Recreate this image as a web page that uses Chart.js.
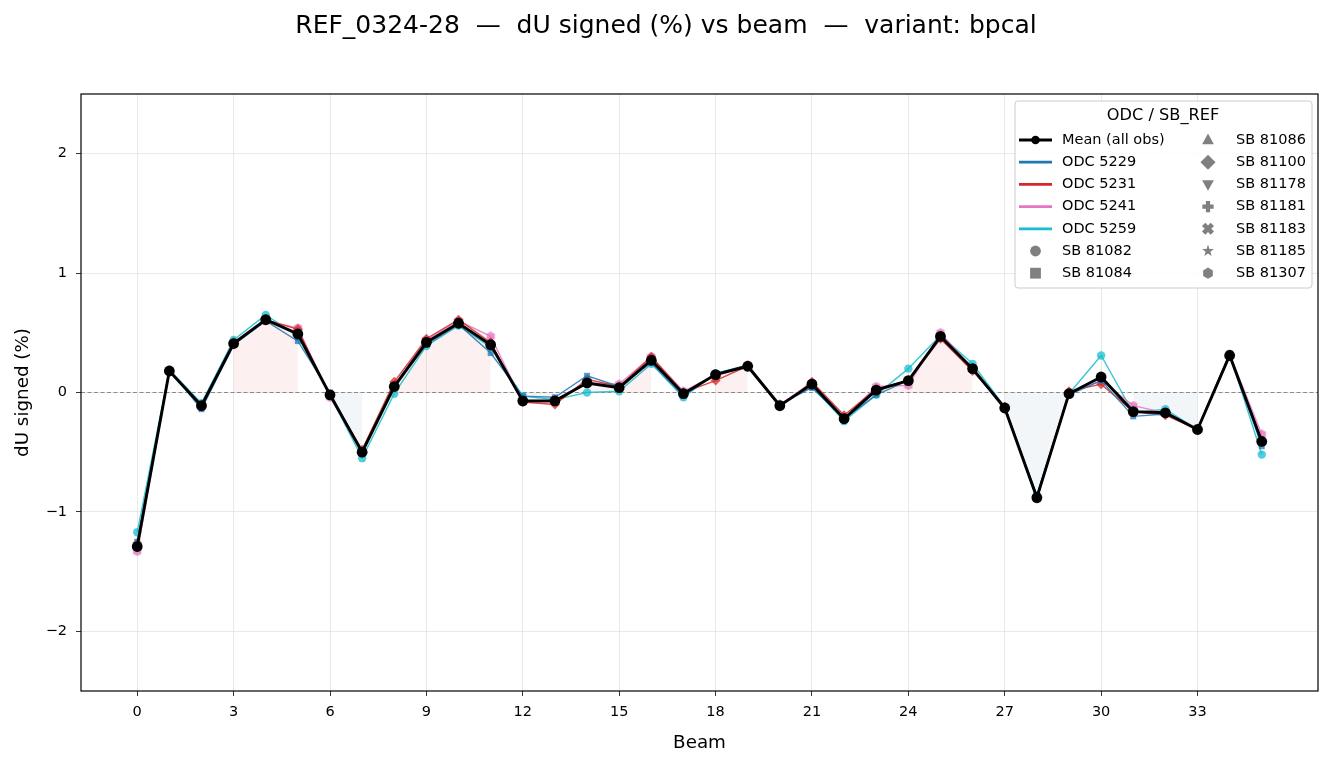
<!DOCTYPE html>
<html>
<head>
<meta charset="utf-8">
<script src="https://cdn.jsdelivr.net/npm/chart.js@4.4.1/dist/chart.umd.min.js"></script>
<style>
body { margin: 0; background: #fff; }
#wrap { width: 1334px; height: 767px; position: relative; }
</style>
</head>
<body>
<div id="wrap"><canvas id="myChart" width="1334" height="767"></canvas></div>
<script>
// data
const beams = [0,1,2,3,4,5,6,7,8,9,10,11,12,13,14,15,16,17,18,19,20,21,22,23,24,25,26,27,28,29,30,31,32,33,34,35]
const meanVals = [-1.29,0.18,-0.11,0.41,0.61,0.49,-0.02,-0.50,0.05,0.42,0.58,0.40,-0.07,-0.07,0.08,0.04,0.27,-0.01,0.15,0.22,-0.11,0.07,-0.22,0.02,0.10,0.47,0.20,-0.13,-0.88,-0.01,0.13,-0.16,-0.17,-0.31,0.31,-0.41]
const odc5229 = [-1.25,0.19,-0.14,0.40,0.60,0.43,0.00,-0.50,0.05,0.40,0.57,0.33,-0.03,-0.04,0.14,0.05,0.25,-0.03,0.16,0.23,-0.10,0.04,-0.22,-0.02,0.10,0.47,0.20,-0.14,-0.86,-0.02,0.10,-0.20,-0.18,-0.31,0.33,-0.45]
const odc5231 = [-1.26,0.18,-0.12,0.42,0.61,0.53,-0.02,-0.48,0.09,0.45,0.61,0.42,-0.08,-0.10,0.11,0.05,0.30,0.00,0.10,0.22,-0.12,0.09,-0.19,0.03,0.10,0.45,0.18,-0.12,-0.88,0.01,0.07,-0.16,-0.19,-0.31,0.31,-0.40]
const odc5241 = [-1.33,0.18,-0.12,0.40,0.60,0.54,-0.04,-0.50,0.06,0.44,0.60,0.47,-0.08,-0.08,0.08,0.07,0.30,0.01,0.15,0.23,-0.10,0.08,-0.22,0.05,0.06,0.50,0.20,-0.12,-0.89,-0.01,0.10,-0.11,-0.17,-0.31,0.32,-0.35]
const odc5259 = [-1.17,0.19,-0.09,0.44,0.65,0.47,-0.02,-0.55,-0.01,0.39,0.56,0.38,-0.03,-0.06,0.00,0.01,0.24,-0.04,0.16,0.22,-0.10,0.05,-0.24,-0.02,0.20,0.48,0.24,-0.12,-0.86,-0.01,0.31,-0.17,-0.14,-0.31,0.32,-0.52]
const xTicks = [0,3,6,9,12,15,18,21,24,27,30,33]
const yTicks = [-2,-1,0,1,2]

const odcNames = ["ODC 5229", "ODC 5231", "ODC 5241", "ODC 5259"]
const odcColors = ["#1f77b4", "#d62728", "#e377c2", "#17becf"]
const sbLeft = ["SB 81082", "SB 81084"]
const sbRight = ["SB 81086", "SB 81100", "SB 81178", "SB 81181", "SB 81183", "SB 81185", "SB 81307"]

const FONT = "'DejaVu Sans', sans-serif"

function alpha(hex, a) {
    let r = parseInt(hex.slice(1, 3), 16), g = parseInt(hex.slice(3, 5), 16), b = parseInt(hex.slice(5, 7), 16)
    return `rgba(${r},${g},${b},${a})`
}

// marker shapes used by the legend and the hexagon points
function drawMarker(ctx, type, x, y, s, color) {
    ctx.save()
    ctx.fillStyle = color
    ctx.beginPath()
    if (type == "circle") {
        ctx.arc(x, y, s, 0, Math.PI * 2)
    } else if (type == "square") {
        ctx.rect(x - s, y - s, 2 * s, 2 * s)
    } else if (type == "tri") {
        ctx.moveTo(x, y - s * 1.15); ctx.lineTo(x + s * 1.05, y + s * 0.75); ctx.lineTo(x - s * 1.05, y + s * 0.75)
    } else if (type == "triDown") {
        ctx.moveTo(x, y + s * 1.15); ctx.lineTo(x + s * 1.05, y - s * 0.75); ctx.lineTo(x - s * 1.05, y - s * 0.75)
    } else if (type == "diamond") {
        ctx.moveTo(x, y - s * 1.35); ctx.lineTo(x + s * 1.35, y); ctx.lineTo(x, y + s * 1.35); ctx.lineTo(x - s * 1.35, y)
    } else if (type == "plus" || type == "x") {
        let a = s, w = s * 0.38
        let pts = [[-w,-a],[w,-a],[w,-w],[a,-w],[a,w],[w,w],[w,a],[-w,a],[-w,w],[-a,w],[-a,-w],[-w,-w]]
        let ang = type == "x" ? Math.PI / 4 : 0
        let k = type == "x" ? 1.1 : 1
        pts.forEach((p, i) => {
            let px = (p[0] * Math.cos(ang) - p[1] * Math.sin(ang)) * k
            let py = (p[0] * Math.sin(ang) + p[1] * Math.cos(ang)) * k
            if (i == 0) ctx.moveTo(x + px, y + py); else ctx.lineTo(x + px, y + py)
        })
    } else if (type == "star") {
        for (let i = 0; i < 10; i++) {
            let r = i % 2 == 0 ? s * 1.1 : s * 0.45
            let a = -Math.PI / 2 + i * Math.PI / 5
            if (i == 0) ctx.moveTo(x + r * Math.cos(a), y + r * Math.sin(a)); else ctx.lineTo(x + r * Math.cos(a), y + r * Math.sin(a))
        }
    } else if (type == "hex") {
        for (let i = 0; i < 6; i++) {
            let a = -Math.PI / 2 + i * Math.PI / 3
            if (i == 0) ctx.moveTo(x + s * Math.cos(a), y + s * Math.sin(a)); else ctx.lineTo(x + s * Math.cos(a), y + s * Math.sin(a))
        }
    }
    ctx.closePath()
    ctx.fill()
    ctx.restore()
}

function hexPoint(color) {
    let c = document.createElement("canvas")
    c.width = 10; c.height = 10
    drawMarker(c.getContext("2d"), "hex", 5, 5, 4.8, color)
    return c
}

function toPts(vals) {
    return beams.map((b, i) => ({ x: b, y: vals[i] }))
}

const posFill = beams.map((b, i) => ({ x: b, y: meanVals[i] > 0 ? meanVals[i] : null }))
const negFill = beams.map((b, i) => ({ x: b, y: meanVals[i] < 0 ? meanVals[i] : null }))

const odcData = [odc5229, odc5231, odc5241, odc5259]
const odcStyles = ["rect", "rectRot", hexPoint(alpha("#e377c2", 0.8)), "circle"]

let datasets = [{
    label: "Mean (all obs)",
    data: toPts(meanVals),
    borderColor: "#000",
    backgroundColor: "#000",
    borderWidth: 2.9,
    pointRadius: 5.4,
    pointBorderWidth: 0
}]
odcData.forEach((vals, i) => {
    datasets.push({
        label: odcNames[i],
        data: toPts(vals),
        borderColor: alpha(odcColors[i], 0.85),
        backgroundColor: alpha(odcColors[i], 0.75),
        borderWidth: 1.4,
        pointStyle: odcStyles[i],
        pointRadius: i == 1 ? 5 : 4.2,
        pointBorderWidth: 0
    })
})
datasets.push({
    label: "pos",
    data: posFill,
    borderWidth: 0,
    pointRadius: 0,
    backgroundColor: "rgba(214,39,40,0.07)",
    fill: "origin",
    spanGaps: false
})
datasets.push({
    label: "neg",
    data: negFill,
    borderWidth: 0,
    pointRadius: 0,
    backgroundColor: "rgba(31,100,150,0.06)",
    fill: "origin",
    spanGaps: false
})

const decor = {
    id: "decor",
    beforeDatasetsDraw(chart) {
        let ctx = chart.ctx, a = chart.chartArea
        let y0 = chart.scales.y.getPixelForValue(0)
        ctx.save()
        ctx.strokeStyle = "#808080"
        ctx.lineWidth = 0.9
        ctx.setLineDash([4, 2.5])
        ctx.beginPath()
        ctx.moveTo(a.left, y0)
        ctx.lineTo(a.right, y0)
        ctx.stroke()
        ctx.restore()
    },
    afterDraw(chart) {
        let ctx = chart.ctx, a = chart.chartArea
        ctx.save()
        // frame
        ctx.strokeStyle = "#000"
        ctx.lineWidth = 1.2
        ctx.strokeRect(a.left, a.top, a.right - a.left, a.bottom - a.top)
        // title
        ctx.fillStyle = "#000"
        ctx.font = "25px " + FONT
        ctx.textAlign = "center"
        ctx.textBaseline = "middle"
        ctx.fillText("REF_0324-28  —  dU signed (%) vs beam  —  variant: bpcal", 666, 26)

        // legend
        let bx = a.right - 303, by = a.top + 7, bw = 297, bh = 187
        ctx.fillStyle = "rgba(255,255,255,0.85)"
        ctx.strokeStyle = "#cccccc"
        ctx.lineWidth = 1
        ctx.beginPath()
        ctx.roundRect(bx, by, bw, bh, 3)
        ctx.fill()
        ctx.stroke()
        ctx.fillStyle = "#000"
        ctx.font = "16.2px " + FONT
        ctx.textAlign = "center"
        ctx.fillText("ODC / SB_REF", bx + 148, by + 15)
        ctx.font = "14.5px " + FONT
        ctx.textAlign = "left"
        let rowY = i => by + 39 + i * 22.2
        let hx0 = bx + 4, hx1 = bx + 37, tx = bx + 47
        // mean
        ctx.strokeStyle = "#000"
        ctx.lineWidth = 2.8
        ctx.beginPath(); ctx.moveTo(hx0, rowY(0)); ctx.lineTo(hx1, rowY(0)); ctx.stroke()
        drawMarker(ctx, "circle", (hx0 + hx1) / 2, rowY(0), 4.3, "#000")
        ctx.fillStyle = "#000"
        ctx.fillText("Mean (all obs)", tx, rowY(0))
        odcNames.forEach((n, i) => {
            ctx.strokeStyle = odcColors[i]
            ctx.lineWidth = 2.8
            ctx.beginPath(); ctx.moveTo(hx0, rowY(i + 1)); ctx.lineTo(hx1, rowY(i + 1)); ctx.stroke()
            ctx.fillStyle = "#000"
            ctx.fillText(n, tx, rowY(i + 1))
        })
        let grey = "#808080"
        let leftShapes = ["circle", "square"]
        sbLeft.forEach((n, i) => {
            drawMarker(ctx, leftShapes[i], (hx0 + hx1) / 2, rowY(i + 5), 5.4, grey)
            ctx.fillStyle = "#000"
            ctx.fillText(n, tx, rowY(i + 5))
        })
        let rightShapes = ["tri", "diamond", "triDown", "plus", "x", "star", "hex"]
        let mx = bx + 193, rtx = bx + 221
        sbRight.forEach((n, i) => {
            drawMarker(ctx, rightShapes[i], mx, rowY(i), 5.6, grey)
            ctx.fillStyle = "#000"
            ctx.fillText(n, rtx, rowY(i))
        })
        ctx.restore()
    }
}

const config = {
    type: "line",
    data: { datasets },
    options: {
        responsive: false,
        animation: false,
        devicePixelRatio: 1,
        layout: { padding: { top: 94, right: 16, bottom: 0, left: 0 } },
        plugins: {
            legend: { display: false },
            tooltip: { enabled: false },
            title: { display: false }
        },
        scales: {
            x: {
                type: "linear",
                min: -1.75,
                max: 36.75,
                afterBuildTicks: s => { s.ticks = xTicks.map(v => ({ value: v })) },
                afterFit: s => { s.height = 76 },
                grid: { color: "#e3e3e3", lineWidth: 0.8, tickColor: "#000", tickLength: 5, drawTicks: true },
                border: { display: false },
                ticks: { color: "#000", font: { family: FONT, size: 14.5 }, padding: 8, maxRotation: 0 },
                title: { display: true, text: "Beam", color: "#000", font: { family: FONT, size: 18.3 }, padding: { top: 4, bottom: 13 } }
            },
            y: {
                type: "linear",
                min: -2.5,
                max: 2.5,
                afterBuildTicks: s => { s.ticks = yTicks.map(v => ({ value: v })) },
                afterFit: s => { s.width = 81 },
                grid: { color: "#e3e3e3", lineWidth: 0.8, tickColor: "#000", tickLength: 5 },
                border: { display: false },
                ticks: {
                    color: "#000",
                    font: { family: FONT, size: 14.5 },
                    padding: 9,
                    callback: v => String(v).replace("-", "\u2212")
                },
                title: { display: true, text: "dU signed (%)", color: "#000", font: { family: FONT, size: 18.3 }, padding: { top: 12, bottom: 4 } }
            }
        }
    },
    plugins: [decor]
}

var myChart = new Chart(document.getElementById("myChart").getContext("2d"), config)
</script>
</body>
</html>
